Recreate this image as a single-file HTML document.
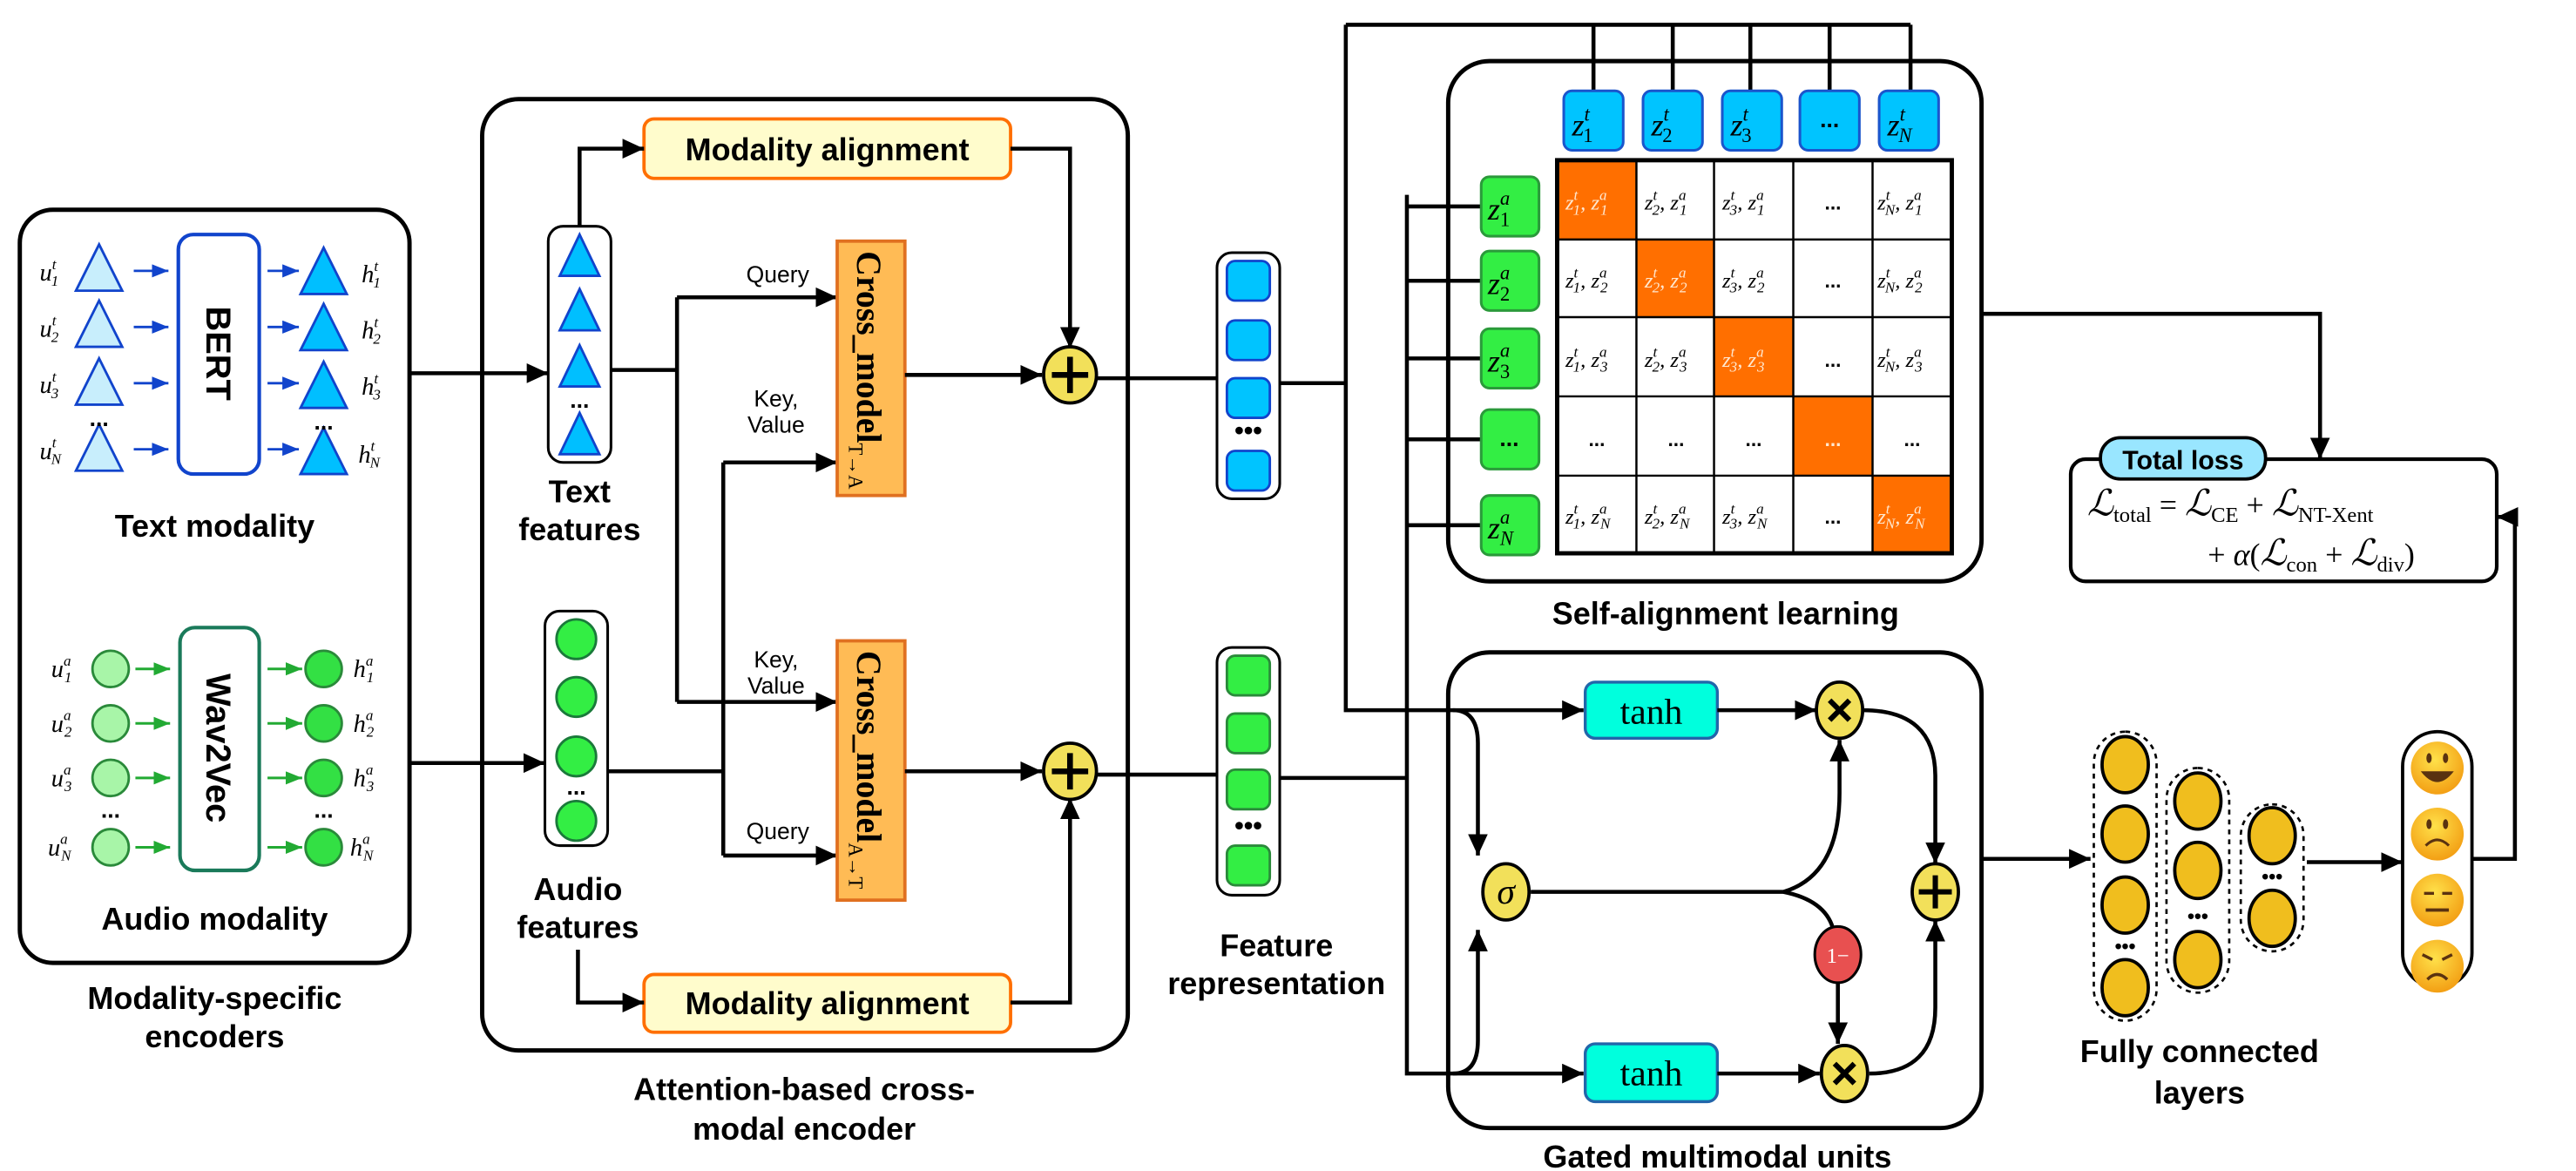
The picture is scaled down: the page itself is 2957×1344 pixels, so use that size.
<!DOCTYPE html>
<html><head><meta charset="utf-8"><style>
html,body{margin:0;padding:0;background:#fff}
svg{display:block}
.lb{font-family:"Liberation Sans",sans-serif;font-weight:bold;font-size:19px;fill:#000;text-anchor:middle}
.sm{font-family:"Liberation Sans",sans-serif;font-size:14px;fill:#000;text-anchor:middle}
.m{font-family:"Liberation Serif",serif;font-style:italic;font-size:15px;fill:#000}
.c{font-family:"Liberation Serif",serif;font-style:italic;font-size:13px;fill:#000}
.s{font-size:9px}
.w{fill:#ffe8d0}
.ln{fill:none;stroke:#000;stroke-width:2.4}
</style></head><body>
<svg width="2957" height="1344" viewBox="0 0 1560 709" preserveAspectRatio="none" xmlns="http://www.w3.org/2000/svg">
<defs>
<marker id="a" markerUnits="userSpaceOnUse" markerWidth="13" markerHeight="12" refX="13" refY="6" orient="auto"><path d="M0,0 L13,6 L0,12 z" fill="#000"/></marker>
<marker id="b" markerUnits="userSpaceOnUse" markerWidth="10" markerHeight="8" refX="10" refY="4" orient="auto"><path d="M0,0 L10,4 L0,8 z" fill="#1144cc"/></marker>
<marker id="g" markerUnits="userSpaceOnUse" markerWidth="10" markerHeight="8" refX="10" refY="4" orient="auto"><path d="M0,0 L10,4 L0,8 z" fill="#22aa33"/></marker>
<radialGradient id="em" cx="0.45" cy="0.35" r="0.7"><stop offset="0" stop-color="#ffe14a"/><stop offset="1" stop-color="#f29a10"/></radialGradient>
</defs>

<!-- Encoders box -->
<rect x="12" y="127" width="236" height="456" rx="20" fill="#fff" stroke="#000" stroke-width="2.6"/>
<text class="lb" x="130" y="611">Modality-specific</text>
<text class="lb" x="130" y="634">encoders</text>
<g stroke="#1144cc" stroke-width="1.5">
<path d="M60,148 L74,176 L46,176 Z" fill="#c8eefc"/>
<path d="M60,182 L74,210 L46,210 Z" fill="#c8eefc"/>
<path d="M60,217 L74,245 L46,245 Z" fill="#c8eefc"/>
<path d="M60,257 L74,285 L46,285 Z" fill="#c8eefc"/>
<path d="M196,150 L210,178 L182,178 Z" fill="#00bfff"/>
<path d="M196,184 L210,212 L182,212 Z" fill="#00bfff"/>
<path d="M196,219 L210,247 L182,247 Z" fill="#00bfff"/>
<path d="M196,259 L210,287 L182,287 Z" fill="#00bfff"/>
<line x1="81" y1="164" x2="102" y2="164" marker-end="url(#b)"/>
<line x1="81" y1="198" x2="102" y2="198" marker-end="url(#b)"/>
<line x1="81" y1="232" x2="102" y2="232" marker-end="url(#b)"/>
<line x1="81" y1="272" x2="102" y2="272" marker-end="url(#b)"/>
<line x1="162" y1="164" x2="181" y2="164" marker-end="url(#b)"/>
<line x1="162" y1="198" x2="181" y2="198" marker-end="url(#b)"/>
<line x1="162" y1="232" x2="181" y2="232" marker-end="url(#b)"/>
<line x1="162" y1="272" x2="181" y2="272" marker-end="url(#b)"/>
</g>
<rect x="108" y="142" width="49" height="145" rx="9" fill="#fff" stroke="#1144cc" stroke-width="2.2"/>
<text class="lb" transform="translate(125,214) rotate(90)" x="0" y="0" style="font-size:21px">BERT</text>
<text class="sm" x="60" y="258" style="font-weight:bold">...</text>
<text class="sm" x="196" y="260" style="font-weight:bold">...</text>
<g class="m">
<text x="24" y="170">u<tspan class="s" dy="-7">t</tspan><tspan class="s" dx="-3" dy="10">1</tspan></text>
<text x="24" y="204">u<tspan class="s" dy="-7">t</tspan><tspan class="s" dx="-3" dy="10">2</tspan></text>
<text x="24" y="238">u<tspan class="s" dy="-7">t</tspan><tspan class="s" dx="-3" dy="10">3</tspan></text>
<text x="24" y="278">u<tspan class="s" dy="-7">t</tspan><tspan class="s" dx="-3" dy="10">N</tspan></text>
<text x="219" y="171">h<tspan class="s" dy="-7">t</tspan><tspan class="s" dx="-3" dy="10">1</tspan></text>
<text x="219" y="205">h<tspan class="s" dy="-7">t</tspan><tspan class="s" dx="-3" dy="10">2</tspan></text>
<text x="219" y="239">h<tspan class="s" dy="-7">t</tspan><tspan class="s" dx="-3" dy="10">3</tspan></text>
<text x="217" y="280">h<tspan class="s" dy="-7">t</tspan><tspan class="s" dx="-3" dy="10">N</tspan></text>
</g>
<text class="lb" x="130" y="325">Text modality</text>
<g stroke="#2a8a3a" stroke-width="1.5">
<circle cx="67" cy="405" r="11" fill="#a8f5a8"/><circle cx="67" cy="438" r="11" fill="#a8f5a8"/>
<circle cx="67" cy="471" r="11" fill="#a8f5a8"/><circle cx="67" cy="513" r="11" fill="#a8f5a8"/>
<circle cx="196" cy="405" r="11" fill="#33e044"/><circle cx="196" cy="438" r="11" fill="#33e044"/>
<circle cx="196" cy="471" r="11" fill="#33e044"/><circle cx="196" cy="513" r="11" fill="#33e044"/>
</g>
<g stroke="#22aa33" stroke-width="1.6">
<line x1="82" y1="405" x2="103" y2="405" marker-end="url(#g)"/>
<line x1="82" y1="438" x2="103" y2="438" marker-end="url(#g)"/>
<line x1="82" y1="471" x2="103" y2="471" marker-end="url(#g)"/>
<line x1="82" y1="513" x2="103" y2="513" marker-end="url(#g)"/>
<line x1="162" y1="405" x2="183" y2="405" marker-end="url(#g)"/>
<line x1="162" y1="438" x2="183" y2="438" marker-end="url(#g)"/>
<line x1="162" y1="471" x2="183" y2="471" marker-end="url(#g)"/>
<line x1="162" y1="513" x2="183" y2="513" marker-end="url(#g)"/>
</g>
<rect x="109" y="380" width="48" height="147" rx="9" fill="#fff" stroke="#1a7a5a" stroke-width="2.2"/>
<text class="lb" transform="translate(125,453) rotate(90)" x="0" y="0" style="font-size:21px">Wav2Vec</text>
<text class="sm" x="67" y="495" style="font-weight:bold">...</text>
<text class="sm" x="196" y="495" style="font-weight:bold">...</text>
<g class="m">
<text x="31" y="410">u<tspan class="s" dy="-7">a</tspan><tspan class="s" dx="-4" dy="10">1</tspan></text>
<text x="31" y="443">u<tspan class="s" dy="-7">a</tspan><tspan class="s" dx="-4" dy="10">2</tspan></text>
<text x="31" y="476">u<tspan class="s" dy="-7">a</tspan><tspan class="s" dx="-4" dy="10">3</tspan></text>
<text x="29" y="518">u<tspan class="s" dy="-7">a</tspan><tspan class="s" dx="-4" dy="10">N</tspan></text>
<text x="214" y="410">h<tspan class="s" dy="-7">a</tspan><tspan class="s" dx="-4" dy="10">1</tspan></text>
<text x="214" y="443">h<tspan class="s" dy="-7">a</tspan><tspan class="s" dx="-4" dy="10">2</tspan></text>
<text x="214" y="476">h<tspan class="s" dy="-7">a</tspan><tspan class="s" dx="-4" dy="10">3</tspan></text>
<text x="212" y="518">h<tspan class="s" dy="-7">a</tspan><tspan class="s" dx="-4" dy="10">N</tspan></text>
</g>
<text class="lb" x="130" y="563">Audio modality</text>

<!-- Attention box -->
<rect x="292" y="60" width="391" height="576" rx="22" fill="none" stroke="#000" stroke-width="2.6"/>
<text class="lb" x="487" y="666">Attention-based cross-</text>
<text class="lb" x="487" y="690">modal encoder</text>
<line class="ln" x1="248" y1="226" x2="332" y2="226" marker-end="url(#a)"/>
<line class="ln" x1="248" y1="462" x2="330" y2="462" marker-end="url(#a)"/>
<rect x="332" y="137" width="38" height="143" rx="9" fill="#fff" stroke="#000" stroke-width="1.6"/>
<g stroke="#1144cc" stroke-width="1.5" fill="#00bfff">
<path d="M351,142 L363,167 L339,167 Z"/><path d="M351,175 L363,200 L339,200 Z"/>
<path d="M351,209 L363,234 L339,234 Z"/><path d="M351,250 L363,275 L339,275 Z"/>
</g>
<text class="sm" x="351" y="247" style="font-weight:bold">...</text>
<text class="lb" x="351" y="304">Text</text>
<text class="lb" x="351" y="327">features</text>
<rect x="330" y="370" width="38" height="142" rx="9" fill="#fff" stroke="#000" stroke-width="1.6"/>
<g stroke="#1a7a3a" stroke-width="1.5" fill="#33ee44">
<circle cx="349" cy="387" r="12"/><circle cx="349" cy="422" r="12"/><circle cx="349" cy="458" r="12"/><circle cx="349" cy="497" r="12"/>
</g>
<text class="sm" x="349" y="481" style="font-weight:bold">...</text>
<text class="lb" x="350" y="545">Audio</text>
<text class="lb" x="350" y="568">features</text>
<rect x="390" y="72" width="222" height="36" rx="6" fill="#fffccc" stroke="#ff6f00" stroke-width="2"/>
<text class="lb" x="501" y="97">Modality alignment</text>
<rect x="390" y="590" width="222" height="35" rx="6" fill="#fffccc" stroke="#ff6f00" stroke-width="2"/>
<text class="lb" x="501" y="614">Modality alignment</text>
<path class="ln" d="M351,137 L351,90 L390,90" marker-end="url(#a)"/>
<path class="ln" d="M612,90 L648,90 L648,211" marker-end="url(#a)"/>
<path class="ln" d="M350,575 L350,607 L390,607" marker-end="url(#a)"/>
<path class="ln" d="M612,607 L648,607 L648,483" marker-end="url(#a)"/>
<path class="ln" d="M370,224 L410,224"/>
<path class="ln" d="M410,180 L410,425"/>
<path class="ln" d="M410,180 L507,180" marker-end="url(#a)"/>
<path class="ln" d="M410,425 L507,425" marker-end="url(#a)"/>
<path class="ln" d="M368,467 L438,467"/>
<path class="ln" d="M438,280 L438,518"/>
<path class="ln" d="M438,280 L507,280" marker-end="url(#a)"/>
<path class="ln" d="M438,518 L507,518" marker-end="url(#a)"/>
<text class="sm" x="471" y="171">Query</text>
<text class="sm" x="470" y="246">Key,</text>
<text class="sm" x="470" y="262">Value</text>
<text class="sm" x="470" y="404">Key,</text>
<text class="sm" x="470" y="420">Value</text>
<text class="sm" x="471" y="508">Query</text>
<rect x="507" y="146" width="41" height="154" fill="#ffbb55" stroke="#e07020" stroke-width="2"/>
<text transform="translate(519,152) rotate(90)" style="font-family:'Liberation Serif',serif;font-weight:bold;font-size:21px">Cross_model<tspan style="font-size:12px;font-weight:normal" dy="5">T→A</tspan></text>
<rect x="507" y="388" width="41" height="157" fill="#ffbb55" stroke="#e07020" stroke-width="2"/>
<text transform="translate(519,394) rotate(90)" style="font-family:'Liberation Serif',serif;font-weight:bold;font-size:21px">Cross_model<tspan style="font-size:12px;font-weight:normal" dy="5">A→T</tspan></text>
<line class="ln" x1="548" y1="227" x2="631" y2="227" marker-end="url(#a)"/>
<line class="ln" x1="548" y1="467" x2="631" y2="467" marker-end="url(#a)"/>
<g stroke="#000" stroke-width="2">
<ellipse cx="648" cy="227" rx="16" ry="17" fill="#f2e05a"/>
<ellipse cx="648" cy="467" rx="16" ry="17" fill="#f2e05a"/>
</g>
<g stroke="#000" stroke-width="3.5"><path d="M648,216 V238 M637,227 H659"/><path d="M648,456 V478 M637,467 H659"/></g>
<line class="ln" x1="664" y1="229" x2="737" y2="229"/>
<line class="ln" x1="664" y1="469" x2="737" y2="469"/>

<rect x="737" y="153" width="38" height="149" rx="9" fill="#fff" stroke="#000" stroke-width="1.6"/>
<g fill="#00c4ff" stroke="#1144cc" stroke-width="1.5">
<rect x="743" y="158" width="26" height="24" rx="5"/><rect x="743" y="194" width="26" height="24" rx="5"/>
<rect x="743" y="229" width="26" height="24" rx="5"/><rect x="743" y="273" width="26" height="24" rx="5"/>
</g>
<text class="sm" x="756" y="266" style="font-weight:bold;font-size:16px">•••</text>
<rect x="737" y="392" width="38" height="150" rx="9" fill="#fff" stroke="#000" stroke-width="1.6"/>
<g fill="#33ee44" stroke="#2a8a3a" stroke-width="1.5">
<rect x="743" y="397" width="26" height="24" rx="5"/><rect x="743" y="432" width="26" height="24" rx="5"/>
<rect x="743" y="466" width="26" height="24" rx="5"/><rect x="743" y="512" width="26" height="24" rx="5"/>
</g>
<text class="sm" x="756" y="505" style="font-weight:bold;font-size:16px">•••</text>
<text class="lb" x="773" y="579">Feature</text>
<text class="lb" x="773" y="602">representation</text>

<path class="ln" d="M775,232 L815,232"/>
<path class="ln" d="M815,15 L815,430 L959,430" marker-end="url(#a)"/>
<path class="ln" d="M815,15 L1157,15"/>
<path class="ln" d="M965,15 V55 M1013,15 V55 M1060,15 V55 M1108,15 V55 M1157,15 V55"/>
<path class="ln" d="M775,471 L852,471"/>
<path class="ln" d="M852,118 L852,650 L959,650" marker-end="url(#a)"/>
<path class="ln" d="M852,125 H897 M852,170 H897 M852,217 H897 M852,266 H897 M852,318 H897"/>

<rect x="877" y="37" width="323" height="315" rx="25" fill="none" stroke="#000" stroke-width="2.6"/>
<text class="lb" x="1045" y="378">Self-alignment learning</text>
<g fill="#00c4ff" stroke="#1a55cc" stroke-width="1.6">
<rect x="947" y="55" width="36" height="36" rx="5"/><rect x="995" y="55" width="36" height="36" rx="5"/>
<rect x="1043" y="55" width="36" height="36" rx="5"/><rect x="1090" y="55" width="36" height="36" rx="5"/>
<rect x="1138" y="55" width="36" height="36" rx="5"/>
</g>
<g class="m" style="font-size:19px">
<text x="952" y="82">z<tspan style="font-size:12px" dy="-9">t</tspan><tspan style="font-size:12px;font-style:normal" dx="-4" dy="13">1</tspan></text>
<text x="1000" y="82">z<tspan style="font-size:12px" dy="-9">t</tspan><tspan style="font-size:12px;font-style:normal" dx="-4" dy="13">2</tspan></text>
<text x="1048" y="82">z<tspan style="font-size:12px" dy="-9">t</tspan><tspan style="font-size:12px;font-style:normal" dx="-4" dy="13">3</tspan></text>
<text x="1143" y="82">z<tspan style="font-size:12px" dy="-9">t</tspan><tspan style="font-size:12px" dx="-4" dy="13">N</tspan></text>
</g>
<text class="sm" x="1108" y="77" style="font-weight:bold">...</text>
<g fill="#33ee44" stroke="#2a9a3a" stroke-width="1.6">
<rect x="897" y="107" width="35" height="36" rx="5"/><rect x="897" y="152" width="35" height="36" rx="5"/>
<rect x="897" y="199" width="35" height="36" rx="5"/><rect x="897" y="248" width="35" height="36" rx="5"/>
<rect x="897" y="300" width="35" height="36" rx="5"/>
</g>
<g class="m" style="font-size:19px">
<text x="901" y="133">z<tspan style="font-size:12px" dy="-9">a</tspan><tspan style="font-size:12px;font-style:normal" dx="-6" dy="13">1</tspan></text>
<text x="901" y="178">z<tspan style="font-size:12px" dy="-9">a</tspan><tspan style="font-size:12px;font-style:normal" dx="-6" dy="13">2</tspan></text>
<text x="901" y="225">z<tspan style="font-size:12px" dy="-9">a</tspan><tspan style="font-size:12px;font-style:normal" dx="-6" dy="13">3</tspan></text>
<text x="901" y="326">z<tspan style="font-size:12px" dy="-9">a</tspan><tspan style="font-size:12px" dx="-6" dy="13">N</tspan></text>
</g>
<text class="sm" x="914" y="270" style="font-weight:bold">...</text>
<g fill="#ff6f00">
<rect x="943" y="97" width="48" height="48"/><rect x="991" y="145" width="47" height="47"/>
<rect x="1038" y="192" width="48" height="48"/><rect x="1086" y="240" width="48" height="48"/>
<rect x="1134" y="288" width="48" height="47"/>
</g>
<g stroke="#000" stroke-width="1.3" fill="none">
<path d="M991,97 V335 M1038,97 V335 M1086,97 V335 M1134,97 V335 M943,145 H1182 M943,192 H1182 M943,240 H1182 M943,288 H1182"/>
</g>
<rect x="943" y="97" width="239" height="238" fill="none" stroke="#000" stroke-width="2.6"/>
<g class="c">
<text x="948" y="127" class="c w">z<tspan class="s" dy="-6">t</tspan><tspan class="s" dx="-3" dy="9">1</tspan><tspan dy="-3">, z</tspan><tspan class="s" dy="-6">a</tspan><tspan class="s" dx="-4" dy="9">1</tspan></text>
<text x="996" y="127">z<tspan class="s" dy="-6">t</tspan><tspan class="s" dx="-3" dy="9">2</tspan><tspan dy="-3">, z</tspan><tspan class="s" dy="-6">a</tspan><tspan class="s" dx="-4" dy="9">1</tspan></text>
<text x="1043" y="127">z<tspan class="s" dy="-6">t</tspan><tspan class="s" dx="-3" dy="9">3</tspan><tspan dy="-3">, z</tspan><tspan class="s" dy="-6">a</tspan><tspan class="s" dx="-4" dy="9">1</tspan></text>
<text x="1137" y="127">z<tspan class="s" dy="-6">t</tspan><tspan class="s" dx="-3" dy="9">N</tspan><tspan dy="-3">, z</tspan><tspan class="s" dy="-6">a</tspan><tspan class="s" dx="-4" dy="9">1</tspan></text>
<text x="948" y="174">z<tspan class="s" dy="-6">t</tspan><tspan class="s" dx="-3" dy="9">1</tspan><tspan dy="-3">, z</tspan><tspan class="s" dy="-6">a</tspan><tspan class="s" dx="-4" dy="9">2</tspan></text>
<text x="996" y="174" class="c w">z<tspan class="s" dy="-6">t</tspan><tspan class="s" dx="-3" dy="9">2</tspan><tspan dy="-3">, z</tspan><tspan class="s" dy="-6">a</tspan><tspan class="s" dx="-4" dy="9">2</tspan></text>
<text x="1043" y="174">z<tspan class="s" dy="-6">t</tspan><tspan class="s" dx="-3" dy="9">3</tspan><tspan dy="-3">, z</tspan><tspan class="s" dy="-6">a</tspan><tspan class="s" dx="-4" dy="9">2</tspan></text>
<text x="1137" y="174">z<tspan class="s" dy="-6">t</tspan><tspan class="s" dx="-3" dy="9">N</tspan><tspan dy="-3">, z</tspan><tspan class="s" dy="-6">a</tspan><tspan class="s" dx="-4" dy="9">2</tspan></text>
<text x="948" y="222">z<tspan class="s" dy="-6">t</tspan><tspan class="s" dx="-3" dy="9">1</tspan><tspan dy="-3">, z</tspan><tspan class="s" dy="-6">a</tspan><tspan class="s" dx="-4" dy="9">3</tspan></text>
<text x="996" y="222">z<tspan class="s" dy="-6">t</tspan><tspan class="s" dx="-3" dy="9">2</tspan><tspan dy="-3">, z</tspan><tspan class="s" dy="-6">a</tspan><tspan class="s" dx="-4" dy="9">3</tspan></text>
<text x="1043" y="222" class="c w">z<tspan class="s" dy="-6">t</tspan><tspan class="s" dx="-3" dy="9">3</tspan><tspan dy="-3">, z</tspan><tspan class="s" dy="-6">a</tspan><tspan class="s" dx="-4" dy="9">3</tspan></text>
<text x="1137" y="222">z<tspan class="s" dy="-6">t</tspan><tspan class="s" dx="-3" dy="9">N</tspan><tspan dy="-3">, z</tspan><tspan class="s" dy="-6">a</tspan><tspan class="s" dx="-4" dy="9">3</tspan></text>
<text x="948" y="317">z<tspan class="s" dy="-6">t</tspan><tspan class="s" dx="-3" dy="9">1</tspan><tspan dy="-3">, z</tspan><tspan class="s" dy="-6">a</tspan><tspan class="s" dx="-4" dy="9">N</tspan></text>
<text x="996" y="317">z<tspan class="s" dy="-6">t</tspan><tspan class="s" dx="-3" dy="9">2</tspan><tspan dy="-3">, z</tspan><tspan class="s" dy="-6">a</tspan><tspan class="s" dx="-4" dy="9">N</tspan></text>
<text x="1043" y="317">z<tspan class="s" dy="-6">t</tspan><tspan class="s" dx="-3" dy="9">3</tspan><tspan dy="-3">, z</tspan><tspan class="s" dy="-6">a</tspan><tspan class="s" dx="-4" dy="9">N</tspan></text>
<text x="1137" y="317" class="c w">z<tspan class="s" dy="-6">t</tspan><tspan class="s" dx="-3" dy="9">N</tspan><tspan dy="-3">, z</tspan><tspan class="s" dy="-6">a</tspan><tspan class="s" dx="-4" dy="9">N</tspan></text>
</g>
<g class="sm" style="font-weight:bold;font-size:12px">
<text x="1110" y="127">...</text><text x="1110" y="174">...</text><text x="1110" y="222">...</text><text x="1110" y="317">...</text>
<text x="967" y="270">...</text><text x="1015" y="270">...</text><text x="1062" y="270">...</text><text x="1110" y="270" fill="#ffe8d0">...</text><text x="1158" y="270">...</text>
</g>

<path class="ln" d="M1200,190 L1405,190 L1405,278" marker-end="url(#a)"/>
<rect x="1254" y="278" width="258" height="74" rx="9" fill="#fff" stroke="#000" stroke-width="2.2"/>
<rect x="1272" y="265" width="100" height="25" rx="12" fill="#99e6ff" stroke="#000" stroke-width="2"/>
<text class="lb" x="1322" y="284" style="font-size:16px">Total loss</text>
<text x="1264" y="312" style="font-family:'Liberation Serif',serif;font-size:19px"><tspan font-style="italic" font-size="22">ℒ</tspan><tspan font-size="13" dy="4">total</tspan><tspan dy="-4"> = </tspan><tspan font-style="italic" font-size="22">ℒ</tspan><tspan font-size="13" dy="4">CE</tspan><tspan dy="-4"> + </tspan><tspan font-style="italic" font-size="22">ℒ</tspan><tspan font-size="13" dy="4">NT-Xent</tspan></text>
<text x="1337" y="342" style="font-family:'Liberation Serif',serif;font-size:19px">+ <tspan font-style="italic">α</tspan>(<tspan font-style="italic" font-size="22">ℒ</tspan><tspan font-size="13" dy="4">con</tspan><tspan dy="-4"> + </tspan><tspan font-style="italic" font-size="22">ℒ</tspan><tspan font-size="13" dy="4">div</tspan><tspan dy="-4">)</tspan></text>
<path class="ln" d="M1497,520 L1523,520 L1523,313 L1512,313" marker-end="url(#a)"/>

<rect x="877" y="395" width="323" height="288" rx="25" fill="none" stroke="#000" stroke-width="2.6"/>
<text class="lb" x="1040" y="707">Gated multimodal units</text>
<g fill="#00ffdd" stroke="#2266aa" stroke-width="1.8">
<rect x="960" y="413" width="80" height="34" rx="6"/><rect x="960" y="632" width="80" height="35" rx="6"/>
</g>
<text x="1000" y="438" text-anchor="middle" style="font-family:'Liberation Serif',serif;font-size:22px">tanh</text>
<text x="1000" y="657" text-anchor="middle" style="font-family:'Liberation Serif',serif;font-size:22px">tanh</text>
<path class="ln" d="M880,430 Q895,430 895,450 L895,518" marker-end="url(#a)"/>
<path class="ln" d="M880,650 Q895,650 895,630 L895,563" marker-end="url(#a)"/>
<path class="ln" d="M1040,430 L1100,430" marker-end="url(#a)"/>
<path class="ln" d="M1040,650 L1102,650" marker-end="url(#a)"/>
<path class="ln" d="M1128,430 Q1172,430 1172,470 L1172,523" marker-end="url(#a)"/>
<path class="ln" d="M1132,650 Q1172,650 1172,610 L1172,557" marker-end="url(#a)"/>
<path class="ln" d="M927,540 L1080,540 Q1114,530 1114,480 L1114,448" marker-end="url(#a)"/>
<path class="ln" d="M1080,540 Q1105,545 1110,562"/>
<path class="ln" d="M1113,595 L1113,632" marker-end="url(#a)"/>
<g stroke="#000" stroke-width="2" fill="#f2e05a">
<ellipse cx="1114" cy="430" rx="14" ry="17"/><ellipse cx="1117" cy="650" rx="14" ry="17"/>
<ellipse cx="912" cy="540" rx="14" ry="17"/><ellipse cx="1172" cy="540" rx="14" ry="17"/>
</g>
<ellipse cx="1113" cy="578" rx="14" ry="17" fill="#e85050" stroke="#000" stroke-width="1.6"/>
<g stroke="#000" stroke-width="3.2"><path d="M1108,424 L1120,436 M1120,424 L1108,436"/><path d="M1111,644 L1123,656 M1123,644 L1111,656"/><path d="M1172,530 V550 M1162,540 H1182"/></g>
<text x="912" y="547" text-anchor="middle" style="font-family:'Liberation Serif',serif;font-style:italic;font-size:22px">σ</text>
<text x="1113" y="583" text-anchor="middle" style="font-family:'Liberation Serif',serif;font-size:13px;fill:#fff">1−</text>

<!-- FC -->
<line class="ln" x1="1200" y1="520" x2="1266" y2="520" marker-end="url(#a)"/>
<g fill="none" stroke="#000" stroke-width="1.4" stroke-dasharray="3,3">
<rect x="1268" y="443" width="38" height="175" rx="19"/>
<rect x="1312" y="465" width="38" height="136" rx="19"/>
<rect x="1357" y="487" width="38" height="89" rx="19"/>
</g>
<g fill="#f0be1e" stroke="#000" stroke-width="2">
<ellipse cx="1287" cy="463" rx="14" ry="17"/><ellipse cx="1287" cy="505" rx="14" ry="17"/>
<ellipse cx="1287" cy="548" rx="14" ry="17"/><ellipse cx="1287" cy="598" rx="14" ry="17"/>
<ellipse cx="1331" cy="485" rx="14" ry="17"/><ellipse cx="1331" cy="527" rx="14" ry="17"/>
<ellipse cx="1331" cy="581" rx="14" ry="17"/>
<ellipse cx="1376" cy="506" rx="14" ry="17"/><ellipse cx="1376" cy="556" rx="14" ry="17"/>
</g>
<g class="sm" style="font-weight:bold;font-size:12px">
<text x="1287" y="577">•••</text><text x="1331" y="559">•••</text><text x="1376" y="535">•••</text>
</g>
<line class="ln" x1="1397" y1="522" x2="1455" y2="522" marker-end="url(#a)"/>
<text class="lb" x="1332" y="643">Fully connected</text>
<text class="lb" x="1332" y="668">layers</text>
<rect x="1455" y="443" width="42" height="155" rx="21" fill="#fff" stroke="#000" stroke-width="2"/>
<g fill="url(#em)"><circle cx="1476" cy="465" r="16"/><circle cx="1476" cy="505" r="16"/><circle cx="1476" cy="545" r="16"/><circle cx="1476" cy="585" r="16"/></g>
<g fill="#5a3210">
<ellipse cx="1471" cy="459" rx="1.6" ry="3"/><ellipse cx="1481" cy="459" rx="1.6" ry="3"/>
<path d="M1466,467 Q1476,480 1486,467 Z"/>
<ellipse cx="1471" cy="499" rx="1.6" ry="3"/><ellipse cx="1481" cy="499" rx="1.6" ry="3"/>
<rect x="1468" y="540" width="6" height="1.8"/><rect x="1479" y="540" width="6" height="1.8"/>
<rect x="1469" y="550" width="14" height="2"/>
</g>
<path d="M1469,512 Q1476,505 1483,512" fill="none" stroke="#5a3210" stroke-width="1.6"/>
<path d="M1467,578 L1473,581 M1485,578 L1479,581 M1470,593 Q1476,587 1482,593" fill="none" stroke="#5a3210" stroke-width="1.8"/>
</svg>
</body></html>
